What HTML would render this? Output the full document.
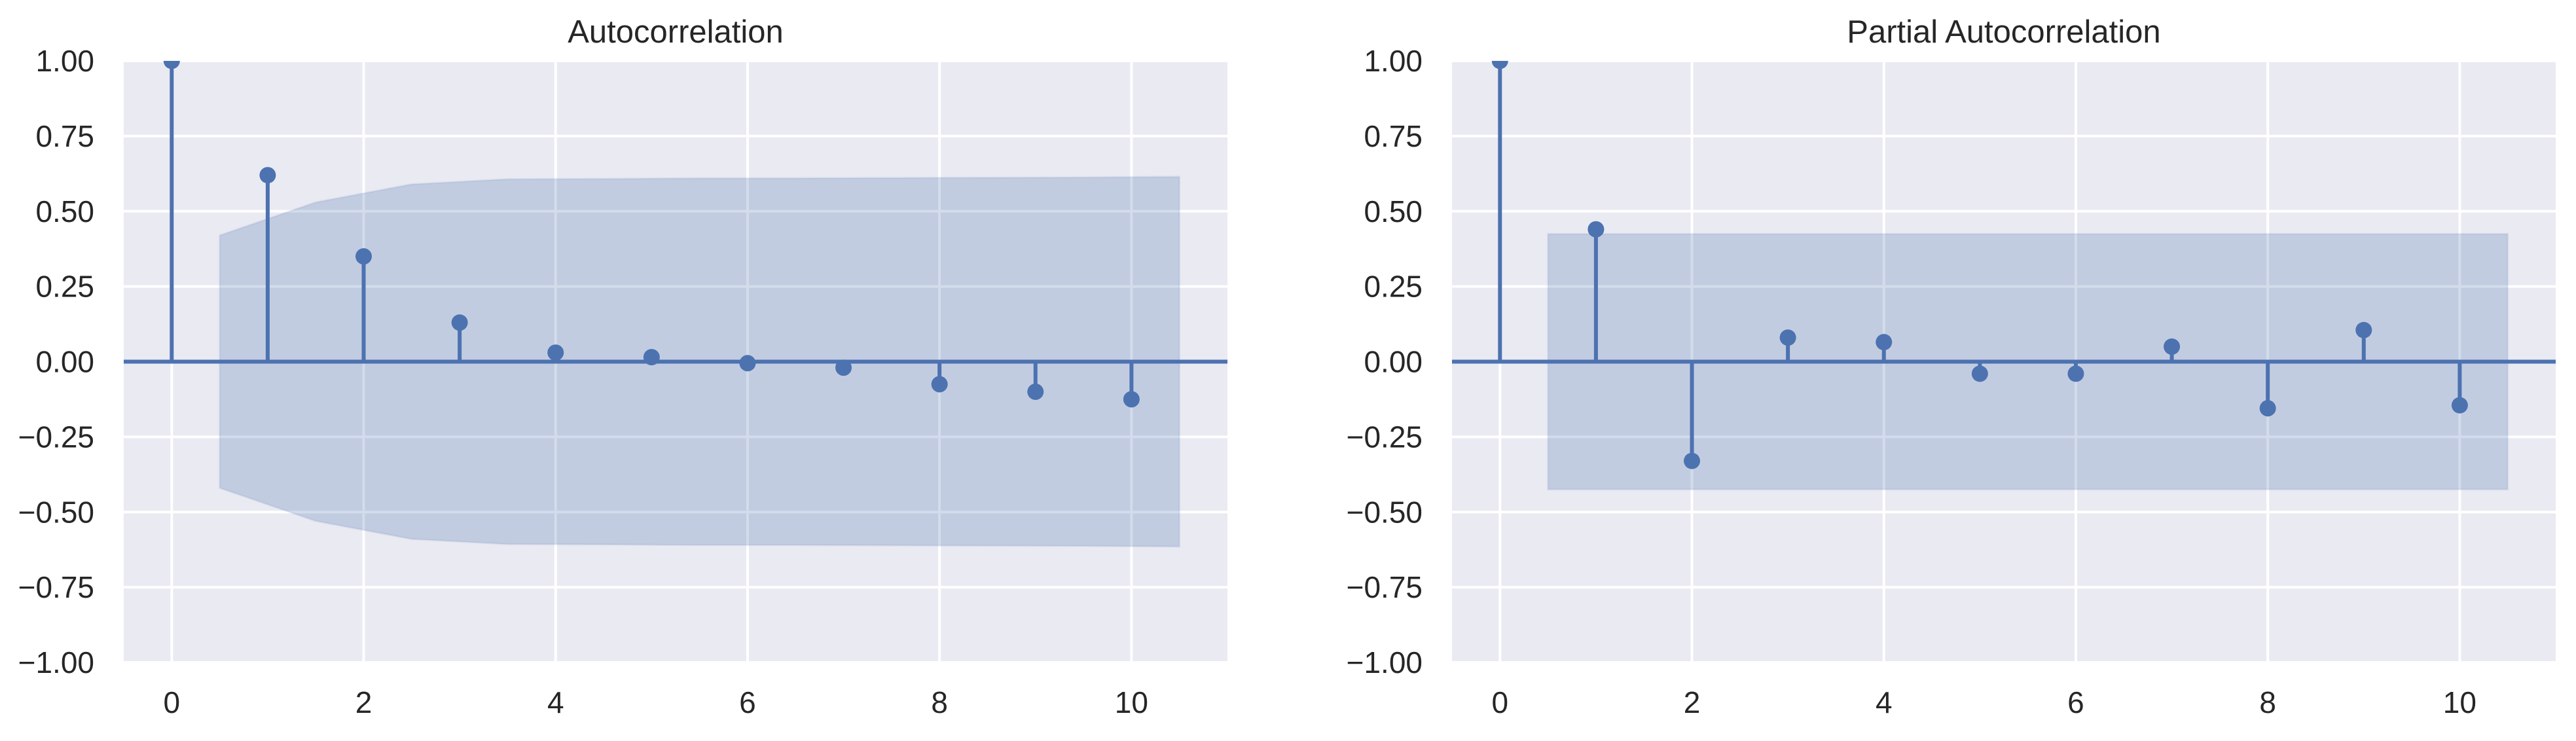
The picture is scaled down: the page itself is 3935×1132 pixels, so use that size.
<!DOCTYPE html>
<html><head><meta charset="utf-8"><style>
html,body{margin:0;padding:0;background:#fff;}
svg text{font-family:"Liberation Sans",Arial,sans-serif;fill:#262626;}
</style></head><body>
<svg id="fig" width="3935" height="1127" xmlns="http://www.w3.org/2000/svg"></svg>
<script>
const lags = [0,1,2,3,4,5,6,7,8,9,10];
const acfValues = [1, 0.62, 0.35, 0.13, 0.03, 0.015, -0.005, -0.02, -0.075, -0.10, -0.125];
const pacfValues = [1, 0.44, -0.33, 0.08, 0.065, -0.04, -0.04, 0.05, -0.155, 0.105, -0.145];
const bandX = [0.5,1.5,2.5,3.5,4.5,5.5,6.5,7.5,8.5,9.5,10.5];
const acfBand = [0.42, 0.53, 0.59, 0.607, 0.608, 0.61, 0.61, 0.611, 0.612, 0.613, 0.615];
const pacfBand = [0.425, 0.425, 0.425, 0.425, 0.425, 0.425, 0.425, 0.425, 0.425, 0.425, 0.425];
const yTicks = [1, 0.75, 0.5, 0.25, 0, -0.25, -0.5, -0.75, -1];
const yTickLabels = ["1.00","0.75","0.50","0.25","0.00","\u22120.25","\u22120.50","\u22120.75","\u22121.00"];
const xTicks = [0,2,4,6,8,10];
const xTickLabels = ["0","2","4","6","8","10"];

const NS = "http://www.w3.org/2000/svg";
const fig = document.getElementById('fig');
function mk(tag, attrs, parent){const e=document.createElementNS(NS,tag);for(const k in attrs)e.setAttribute(k,attrs[k]);(parent||fig).appendChild(e);return e;}

function panel(left, title, vals, band, key){
  const top=93, bottom=1012, right=left+1686;
  const xmin=-0.5, xmax=11.0, ymin=-1, ymax=1;
  const X=v=>left+(v-xmin)/(xmax-xmin)*(right-left);
  const Y=v=>bottom-(v-ymin)/(ymax-ymin)*(bottom-top);
  const g=mk('g',{});
  
  
  const bg=mk('rect',{x:left,y:top,width:right-left,height:bottom-top,fill:'#eaeaf2'},g);
  
  
  yTicks.forEach((t,i)=>{
    const l=mk('line',{x1:left,x2:right,y1:Y(t),y2:Y(t),stroke:'#fff','stroke-width':4},g);
    
    
    const tx=mk('text',{x:left-45,y:Y(t)+16,'text-anchor':'end','font-size':46},g);
    tx.textContent=yTickLabels[i];
    
    
  });
  xTicks.forEach((t,i)=>{
    const l=mk('line',{x1:X(t),x2:X(t),y1:top,y2:bottom,stroke:'#fff','stroke-width':4},g);
    
    
    const tx=mk('text',{x:X(t),y:1089,'text-anchor':'middle','font-size':46},g);
    tx.textContent=xTickLabels[i];
    
    
  });
  let d='M'+bandX.map((x,i)=>X(x)+','+Y(band[i])).join(' L');
  d+=' L'+bandX.slice().reverse().map((x,i)=>X(x)+','+Y(-band[band.length-1-i])).join(' L')+' Z';
  const b=mk('path',{d:d,fill:'#4c72b0','fill-opacity':0.25,stroke:'#4c72b0','stroke-opacity':0.1,'stroke-width':3},g);
  
  
  const z=mk('line',{x1:left,x2:right,y1:Y(0),y2:Y(0),stroke:'#4c72b0','stroke-width':6},g);
  
  
  lags.forEach((lag,i)=>{
    const s=mk('line',{x1:X(lag),x2:X(lag),y1:Y(0),y2:Y(vals[i]),stroke:'#4c72b0','stroke-width':6},g);
    
    
    const c=mk('circle',{cx:X(lag),cy:Y(vals[i]),r:12.5,fill:'#4c72b0'},g);
    
    
  });
  const cover=mk('rect',{x:left-20,y:0,width:right-left+40,height:top,fill:'#fff'},g);
  
  
  const t=mk('text',{x:(left+right)/2,y:65,'text-anchor':'middle','font-size':49},g);
  t.textContent=title;
  
  
}
panel(189,'Autocorrelation',acfValues,acfBand,'acf');
panel(2218,'Partial Autocorrelation',pacfValues,pacfBand,'pacf');
</script>
</body></html>
